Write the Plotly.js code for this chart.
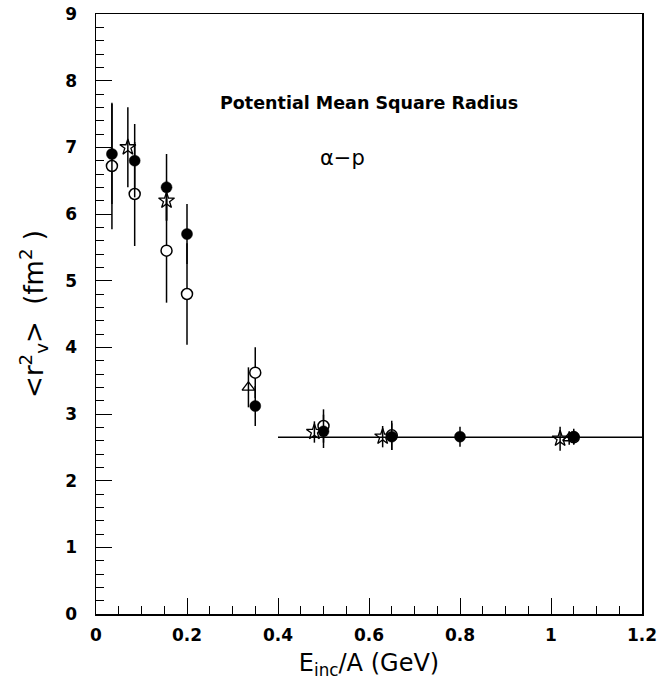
<!DOCTYPE html>
<html>
<head>
<meta charset="utf-8">
<script src="https://cdn.plot.ly/plotly-3.0.1.min.js"></script>
<style>html,body{margin:0;padding:0;background:#fff;}#chart{width:657px;height:688px;}</style>
</head>
<body>
<div id="chart"></div>
<script>
// Filled circles
const filledX = [0.035, 0.085, 0.155, 0.2, 0.35, 0.5, 0.65, 0.8, 1.05];
const filledY = [6.9, 6.8, 6.4, 5.7, 3.12, 2.74, 2.66, 2.66, 2.66];
const filledErr = [0.75, 0.55, 0.5, 0.45, 0.3, 0.25, 0.2, 0.15, 0.12];
// Open circles
const openX = [0.035, 0.085, 0.155, 0.2, 0.35, 0.5, 0.65, 1.05];
const openY = [6.72, 6.3, 5.45, 4.8, 3.62, 2.82, 2.68, 2.65];
const openErr = [0.95, 0.78, 0.78, 0.76, 0.38, 0.25, 0.22, 0.1];
// Open stars
const starX = [0.07, 0.155, 0.48, 0.63, 1.02];
const starY = [7.0, 6.2, 2.73, 2.66, 2.63];
const starErr = [0.6, 0.3, 0.16, 0.16, 0.18];
// Open triangles
const triX = [0.335, 1.04];
const triY = [3.4, 2.64];
const triErr = [0.3, 0.1];
// Horizontal fit line
const lineX = [0.4, 1.2];
const lineY = [2.65, 2.65];

const xTickVals = [0, 0.2, 0.4, 0.6, 0.8, 1, 1.2];
const xTickText = ['0', '0.2', '0.4', '0.6', '0.8', '1', '1.2'];
const yTickVals = [0, 1, 2, 3, 4, 5, 6, 7, 8, 9];

const err = a => ({type: 'data', array: a, visible: true, color: 'black', thickness: 1.5, width: 0});

const traces = [
  {x: lineX, y: lineY, mode: 'lines', line: {color: 'black', width: 1.5}, hoverinfo: 'skip'},
  {x: openX, y: openY, mode: 'markers', error_y: err(openErr),
   marker: {symbol: 'circle', size: 11, color: 'white', line: {color: 'black', width: 1.5}}},
  {x: starX, y: starY, mode: 'markers', error_y: err(starErr),
   marker: {symbol: 'star-open', size: 12, color: 'black', line: {color: 'black', width: 1.3}}},
  {x: triX, y: triY, mode: 'markers', error_y: err(triErr),
   marker: {symbol: 'triangle-up-open', size: 11, color: 'black', line: {color: 'black', width: 1.3}}},
  {x: filledX, y: filledY, mode: 'markers', error_y: err(filledErr),
   marker: {symbol: 'circle', size: 11, color: 'black', line: {color: 'black', width: 0.5}}}
];

const tickFont = {family: 'DejaVu Sans, sans-serif', size: 17, color: 'black', weight: 'bold'};
const titleFont = {family: 'DejaVu Sans, sans-serif', size: 24, color: 'black'};

const layout = {
  width: 657, height: 688,
  margin: {l: 96, r: 15, t: 14, b: 74},
  paper_bgcolor: 'white', plot_bgcolor: 'white',
  showlegend: false,
  xaxis: {
    range: [0, 1.2], tickvals: xTickVals, ticktext: xTickText,
    ticks: 'inside', ticklen: 16, tickwidth: 1, tickcolor: 'black',
    minor: {dtick: 0.05, tick0: 0, ticks: 'inside', ticklen: 8, tickwidth: 1, tickcolor: 'black', showgrid: false},
    showline: true, mirror: true, linecolor: 'black', linewidth: 1.5,
    showgrid: false, zeroline: false, tickfont: tickFont, ticklabelstandoff: 5,
    ticklabeloverflow: 'allow',
    title: {text: 'E<sub>inc</sub>/A (GeV)', font: titleFont, standoff: 10}
  },
  yaxis: {
    range: [0, 9], tickvals: yTickVals,
    ticks: 'inside', ticklen: 16, tickwidth: 1, tickcolor: 'black',
    minor: {dtick: 0.2, tick0: 0, ticks: 'inside', ticklen: 8, tickwidth: 1, tickcolor: 'black', showgrid: false},
    showline: true, mirror: true, linecolor: 'black', linewidth: 1.5,
    showgrid: false, zeroline: false, tickfont: tickFont, ticklabelstandoff: 14,
    ticklabeloverflow: 'allow',
    title: {text: '&lt;r<sup>2</sup><sub>v</sub>&gt;  (fm<sup>2</sup> )', font: {family: 'DejaVu Sans, sans-serif', size: 26, color: 'black'}, standoff: 14}
  },
  annotations: [
    {x: 0.6, y: 7.67, xref: 'x', yref: 'y', text: '<b>Potential Mean Square Radius</b>', showarrow: false,
     font: {family: 'DejaVu Sans, sans-serif', size: 17.5, color: 'black'}},
    {x: 0.542, y: 6.84, xref: 'x', yref: 'y', text: 'α−p', showarrow: false,
     font: {family: 'DejaVu Sans, sans-serif', size: 21, color: 'black'}}
  ]
};

Plotly.newPlot('chart', traces, layout, {staticPlot: true, displayModeBar: false});
</script>
</body>
</html>
